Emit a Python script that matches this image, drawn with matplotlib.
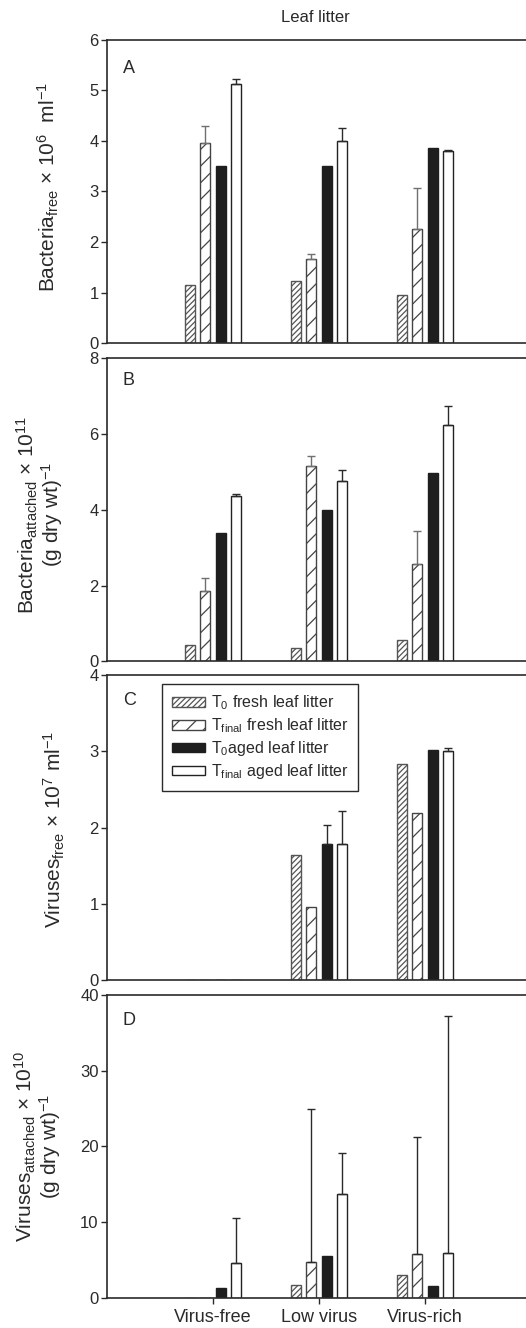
#!/usr/bin/env python3
"""Leaf litter: bacteria and viruses (free / attached) per virus treatment."""

import matplotlib as mpl

mpl.use("Agg")

import matplotlib.pyplot as plt
import numpy as np

plt.rcParams["font.family"] = ["Liberation Sans", "DejaVu Sans"]
plt.rcParams["mathtext.fontset"] = "custom"
plt.rcParams["mathtext.rm"] = "Liberation Sans"
plt.rcParams["mathtext.it"] = "Liberation Sans:italic"
plt.rcParams["mathtext.default"] = "regular"
plt.rcParams["hatch.linewidth"] = 0.9

CATEGORIES = ["Virus-free", "Low virus", "Virus-rich"]
SERIES = [
    "T$_0$ fresh leaf litter",
    "T$_{final}$ fresh leaf litter",
    "T$_0$aged leaf litter",
    "T$_{final}$ aged leaf litter",
]

# panel A: free bacteria (x 10^6 ml^-1)
bact_free = [
    [1.14, 1.22, 0.96],
    [3.96, 1.66, 2.25],
    [3.51, 3.51, 3.86],
    [5.12, 3.99, 3.80],
]
bact_free_err = [
    [0, 0, 0],
    [0.34, 0.11, 0.82],
    [0, 0, 0],
    [0.10, 0.26, 0.02],
]

# panel B: attached bacteria (x 10^11 (g dry wt)^-1)
bact_att = [
    [0.44, 0.35, 0.57],
    [1.86, 5.16, 2.58],
    [3.38, 4.00, 4.98],
    [4.35, 4.76, 6.23],
]
bact_att_err = [
    [0, 0, 0],
    [0.34, 0.25, 0.87],
    [0, 0, 0],
    [0.07, 0.29, 0.51],
]

# panel C: free viruses (x 10^7 ml^-1)
vir_free = [
    [0, 1.64, 2.83],
    [0, 0.96, 2.19],
    [0, 1.79, 3.02],
    [0, 1.79, 3.00],
]
vir_free_err = [
    [0, 0, 0],
    [0, 0, 0],
    [0, 0.24, 0],
    [0, 0.43, 0.04],
]

# panel D: attached viruses (x 10^10 (g dry wt)^-1)
vir_att = [
    [0, 1.71, 2.99],
    [0, 4.70, 5.76],
    [1.32, 5.49, 1.54],
    [4.66, 13.76, 5.93],
]
vir_att_err = [
    [0, 0, 0],
    [0, 20.3, 15.5],
    [0, 0, 0],
    [5.9, 5.4, 31.3],
]

PANELS = [
    dict(letter="A", values=bact_free, errors=bact_free_err, ymax=6, step=1,
         label="Bacteria$_{free}$ × 10$^6$  ml$^{-1}$", lab_x=-0.139, lab_y=0.515,
         letter_y=0.905, rect=(0.7417, 0.2282), err_grey=True),
    dict(letter="B", values=bact_att, errors=bact_att_err, ymax=8, step=2,
         label="Bacteria$_{attached}$ × 10$^{11}$\n(g dry wt)$^{-1}$", lab_x=-0.158,
         lab_y=0.483, letter_y=0.925, rect=(0.5019, 0.2285), err_grey=True),
    dict(letter="C", values=vir_free, errors=vir_free_err, ymax=4, step=1,
         label="Viruses$_{free}$ × 10$^7$ ml$^{-1}$", lab_x=-0.125, lab_y=0.495,
         letter_y=0.915, rect=(0.2620, 0.2297), err_grey=False),
    dict(letter="D", values=vir_att, errors=vir_att_err, ymax=40, step=10,
         label="Viruses$_{attached}$ × 10$^{10}$\n(g dry wt)$^{-1}$", lab_x=-0.163,
         lab_y=0.50, letter_y=0.915, rect=(0.0226, 0.2282), err_grey=False),
]

FACES = ["white", "white", "#1e1e1e", "white"]
HATCHES = ["//////", "//", None, None]
EDGES = ["#555555", "#444444", "#1e1e1e", "#222222"]
INK = "#2a2a2a"

fig = plt.figure(figsize=(5.26, 13.28), dpi=100)
x = np.arange(1, len(CATEGORIES) + 1)
width = 0.095
step = 0.147
offsets = (np.arange(4) - 1.5) * step

legend_handles = []
axes = []
for p in PANELS:
    bottom, height = p["rect"]
    ax = fig.add_axes([0.2034, bottom, 0.806, height])
    axes.append(ax)
    for i in range(4):
        vals = np.asarray(p["values"][i], dtype=float)
        errs = np.asarray(p["errors"][i], dtype=float)
        bars = ax.bar(x + offsets[i], vals, width=width, color=FACES[i],
                      edgecolor=EDGES[i], hatch=HATCHES[i], linewidth=1.0,
                      zorder=2)
        if p["letter"] == "A":
            legend_handles.append(bars)
        has = errs > 0
        if has.any():
            ecolor = "#707070" if (p["err_grey"] and i == 1) else "#2a2a2a"
            ax.errorbar((x + offsets[i])[has], vals[has],
                        yerr=[np.zeros(has.sum()), errs[has]], fmt="none",
                        ecolor=ecolor, elinewidth=1.0, capsize=2.8,
                        capthick=1.0, zorder=3)
    ax.set_xlim(0, 4)
    ax.set_ylim(0, p["ymax"])
    ax.set_yticks(np.arange(0, p["ymax"] + 0.1, p["step"]))
    ax.tick_params(axis="y", direction="out", length=4, width=1.0,
                   labelsize=12, colors=INK, pad=2)
    for side in ("left", "top", "bottom", "right"):
        ax.spines[side].set_color(INK)
        ax.spines[side].set_linewidth(1.2)
    if p["letter"] == "D":
        ax.set_xticks(x)
        ax.set_xticklabels(CATEGORIES, fontsize=13, color=INK)
        ax.tick_params(axis="x", direction="out", length=4, width=1.0,
                       colors=INK, pad=4)
    else:
        ax.set_xticks([])
    ax.text(0.037, p["letter_y"], p["letter"], transform=ax.transAxes,
            fontsize=13, color=INK, ha="left", va="center")
    ax.text(p["lab_x"], p["lab_y"], p["label"], transform=ax.transAxes,
            rotation=90, fontsize=15, color=INK, ha="center", va="center",
            linespacing=0.95)

axes[2].legend(legend_handles, SERIES, loc="upper left",
               bbox_to_anchor=(0.130, 0.970), borderaxespad=0, fontsize=11.5,
               frameon=True, fancybox=False, framealpha=1, edgecolor=INK,
               handlelength=2.1, handleheight=0.55, handletextpad=0.35,
               labelspacing=0.25, borderpad=0.6, labelcolor=INK)
axes[2].get_legend().get_frame().set_linewidth(1.0)

fig.text(0.599, 0.987, "Leaf litter", fontsize=12, color=INK,
         ha="center", va="center")

fig.savefig("out.png", dpi=100)
